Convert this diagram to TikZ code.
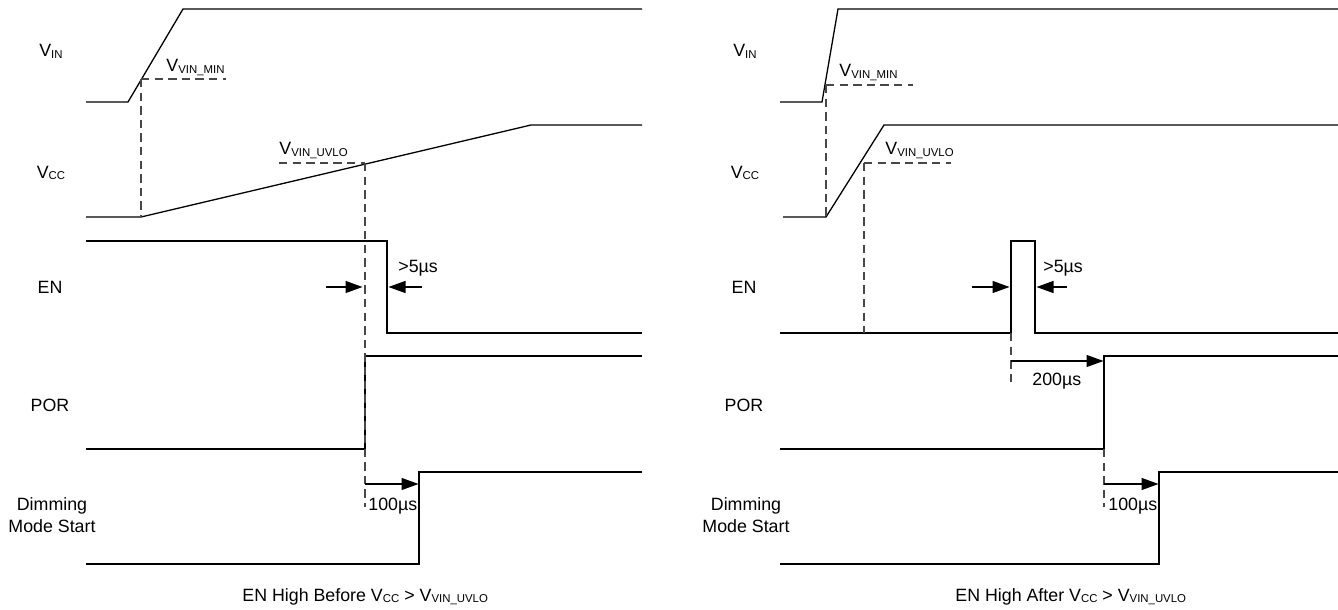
\documentclass[tikz,border=0pt]{standalone}
\usepackage{fontspec}
\setmainfont{Liberation Sans}
\usetikzlibrary{arrows.meta, calc}
\newcommand{\sbt}[1]{\raisebox{-0.6pt}{\fontsize{5.7}{6}\selectfont #1}}

\begin{document}
\begin{tikzpicture}[
    x=0.5pt, y=-0.5pt,
    wave/.style={line width=0.65pt, black},
    guide/.style={line width=0.7pt, black!72, dash pattern=on 4.2pt off 2.6pt},
    dimline/.style={-{Triangle[length=8.5pt, width=6pt]},
                    line width=0.6pt, black},
    sig/.style={font=\fontsize{8.9}{11}\selectfont, anchor=base,
                align=center, inner sep=0pt},
    lbl/.style={font=\fontsize{8.9}{11}\selectfont, anchor=base west,
                inner sep=0pt},
  ]

  \useasboundingbox (0,0) rectangle (1338,610);

  % =========================================================
  %  LEFT PANEL -- EN high before VCC > VVIN_UVLO
  % =========================================================
  \begin{scope}[shift={(0,0)}]
    % signal names
    \node[sig] (vinL) at (51,57) {V\sbt{IN}};
    \node[sig] (vccL) at (51,178) {V\sbt{CC}};
    \node[sig] (enL) at (50,293) {EN};
    \node[sig] (porL) at (50,411) {POR};
    \node[sig, anchor=north] (dimL) at (52,497) {Dimming\\Mode Start};

    % waveforms
    \draw[wave] (86,102) -- (128,102) -- (183,9) -- (642,9);
    \draw[wave] (86,217) -- (141,217) -- (531,125) -- (642,125);
    \draw[wave] (86,241) -- (387,241) -- (387,333) -- (642,333);
    \draw[wave] (86,449) -- (365,449) -- (365,356) -- (642,356);
    \draw[wave] (86,564) -- (419,564) -- (419,472) -- (642,472);

    % thresholds
    \draw[guide] (141,79) -- (226,79);
    \draw[guide] (141,79) -- (141,217);
    \draw[guide] (279,163) -- (365,163);
    \draw[guide] (365,163) -- (365,507);
    \node[lbl] (minL) at (166,72) {V\sbt{VIN\_MIN}};
    \node[lbl] (uvloL) at (279,155) {V\sbt{VIN\_UVLO}};

    % timing marks
    \coordinate (uvA) at (326,287);
    \coordinate (uvB) at (362.5,287);
    \coordinate (enA) at (422,287);
    \coordinate (enB) at (388.5,287);
    \draw[dimline] (uvA) -- (uvB);
    \draw[dimline] (enA) -- (enB);
    \node[lbl] (pwL) at (398,272) {>5µs};

    \coordinate (dmA) at (365,484);
    \coordinate (dmB) at (418.5,484);
    \draw[dimline] (dmA) -- (dmB);
    \node[lbl] (dlyL) at (368,510) {100µs};

    \node[lbl] (capL) at (242,601)
      {EN High Before V\sbt{CC} > V\sbt{VIN\_UVLO}};
  \end{scope}

  % =========================================================
  %  RIGHT PANEL -- EN high after VCC > VVIN_UVLO
  % =========================================================
  \begin{scope}[shift={(694,0)}]
    % signal names
    \node[sig] (vinR) at (51,57) {V\sbt{IN}};
    \node[sig] (vccR) at (51,178) {V\sbt{CC}};
    \node[sig] (enR) at (50,293) {EN};
    \node[sig] (porR) at (50,411) {POR};
    \node[sig, anchor=north] (dimR) at (52,497) {Dimming\\Mode Start};

    % waveforms
    \draw[wave] (86,102) -- (128,102) -- (144,9) -- (644,9);
    \draw[wave] (89,217) -- (132,217) -- (190,125) -- (644,125);
    \draw[wave] (86,333) -- (317,333) -- (317,241) -- (341,241)
                -- (341,333) -- (644,333);
    \draw[wave] (86,449) -- (410,449) -- (410,356) -- (644,356);
    \draw[wave] (86,564) -- (465,564) -- (465,472) -- (644,472);

    % thresholds
    \draw[guide] (132,85) -- (219,85);
    \draw[guide] (132,85) -- (132,217);
    \draw[guide] (170,163) -- (257,163);
    \draw[guide] (170,163) -- (170,333);
    \draw[guide] (317,333) -- (317,385);
    \draw[guide] (410,449) -- (410,507);
    \node[lbl] (minR) at (145,77) {V\sbt{VIN\_MIN}};
    \node[lbl] (uvloR) at (191,155) {V\sbt{VIN\_UVLO}};

    % timing marks
    \coordinate (puA) at (278,287);
    \coordinate (puB) at (315.5,287);
    \coordinate (pdA) at (373,287);
    \coordinate (pdB) at (342.5,287);
    \draw[dimline] (puA) -- (puB);
    \draw[dimline] (pdA) -- (pdB);
    \node[lbl] (pwR) at (349,272) {>5µs};

    \coordinate (prA) at (317,361);
    \coordinate (prB) at (409.5,361);
    \draw[dimline] (prA) -- (prB);
    \node[lbl] (porDly) at (338,385) {200µs};

    \coordinate (dmC) at (410,484);
    \coordinate (dmD) at (464.5,484);
    \draw[dimline] (dmC) -- (dmD);
    \node[lbl] (dlyR) at (414,510) {100µs};

    \node[lbl] (capR) at (261,601)
      {EN High After V\sbt{CC} > V\sbt{VIN\_UVLO}};
  \end{scope}

\end{tikzpicture}
\end{document}
